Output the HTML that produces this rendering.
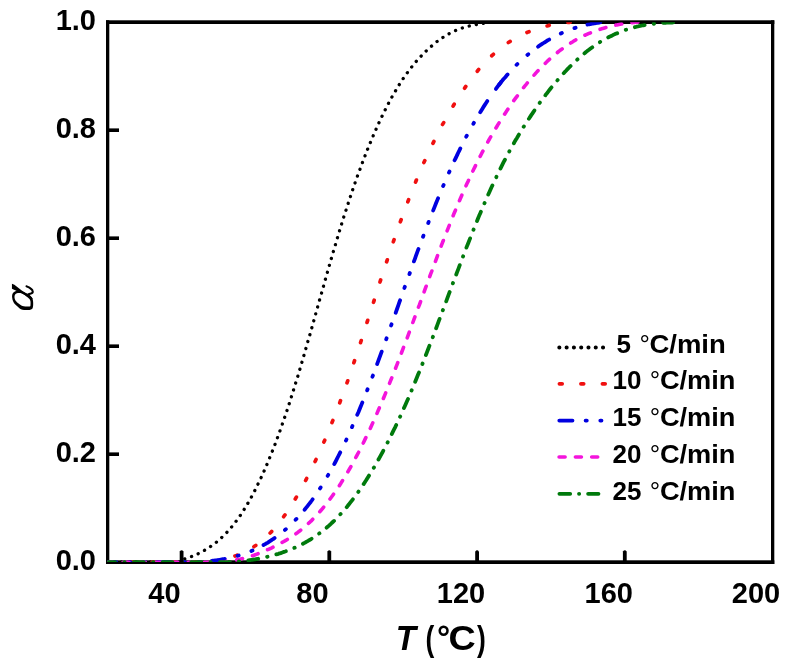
<!DOCTYPE html>
<html><head><meta charset="utf-8"><title>chart</title>
<style>
html,body{margin:0;padding:0;background:#fff;}
body{width:792px;height:668px;overflow:hidden;}
svg{display:block;will-change:transform;}
text{font-family:"Liberation Sans",sans-serif;fill:#000;}
.tk{font-size:29px;font-weight:bold;}
.lg{font-size:26px;font-weight:bold;}
.deg{font-weight:normal;}
.ax{font-size:35px;font-weight:bold;}
</style></head><body>
<svg width="792" height="668" viewBox="0 0 792 668">
<rect x="0" y="0" width="792" height="668" fill="#ffffff"/>
<defs><clipPath id="cp"><rect x="107.2" y="22.2" width="665.4" height="539.9"/></clipPath></defs>
<!-- frame -->
<rect x="106" y="20.3" width="668.3" height="3.7" fill="#000"/>
<rect x="106" y="560.3" width="668.3" height="3.7" fill="#000"/>
<rect x="106" y="20.3" width="3.3" height="543.7" fill="#000"/>
<rect x="771" y="20.3" width="3.3" height="543.7" fill="#000"/>
<g clip-path="url(#cp)">
<path d="M107.7,562.2 L108.8,562.2 L109.9,562.2 L111.0,562.2 L112.1,562.2 L113.2,562.2 L114.4,562.2 L115.5,562.2 L116.6,562.2 L117.7,562.2 L118.8,562.2 L119.9,562.2 L121.0,562.2 L122.1,562.2 L123.2,562.2 L124.3,562.2 L125.4,562.2 L126.6,562.2 L127.7,562.2 L128.8,562.2 L129.9,562.2 L131.0,562.2 L132.1,562.2 L133.2,562.2 L134.3,562.2 L135.4,562.2 L136.5,562.2 L137.6,562.2 L138.8,562.2 L139.9,562.2 L141.0,562.2 L142.1,562.2 L143.2,562.2 L144.3,562.2 L145.4,562.2 L146.5,562.2 L147.6,562.2 L148.7,562.2 L149.8,562.2 L151.0,562.2 L152.1,562.2 L153.2,562.2 L154.3,562.2 L155.4,562.2 L156.5,562.2 L157.6,562.2 L158.7,562.2 L159.8,562.2 L160.9,562.2 L162.0,562.2 L163.2,562.2 L164.3,562.2 L165.4,562.2 L166.5,562.2 L167.6,562.2 L168.7,562.2 L169.8,562.2 L170.9,562.2 L172.0,562.2 L173.1,562.2 L174.2,562.2 L175.4,562.2 L176.5,562.2 L177.6,562.2 L178.7,562.2 L179.8,562.2 L180.9,559.9 L182.0,559.6 L183.1,559.3 L184.2,559.0 L185.3,558.7 L186.4,558.3 L187.6,558.0 L188.7,557.6 L189.8,557.2 L190.9,556.8 L192.0,556.4 L193.1,555.9 L194.2,555.5 L195.3,555.0 L196.4,554.5 L197.5,554.0 L198.6,553.5 L199.8,552.9 L200.9,552.3 L202.0,551.8 L203.1,551.2 L204.2,550.5 L205.3,549.9 L206.4,549.2 L207.5,548.5 L208.6,547.8 L209.7,547.1 L210.8,546.3 L212.0,545.5 L213.1,544.7 L214.2,543.9 L215.3,543.0 L216.4,542.2 L217.5,541.2 L218.6,540.3 L219.7,539.3 L220.8,538.3 L221.9,537.3 L223.0,536.3 L224.2,535.2 L225.3,534.1 L226.4,532.9 L227.5,531.7 L228.6,530.5 L229.7,529.2 L230.8,528.0 L231.9,526.6 L233.0,525.3 L234.1,523.9 L235.2,522.4 L236.4,520.9 L237.5,519.4 L238.6,517.9 L239.7,516.3 L240.8,514.7 L241.9,513.0 L243.0,511.3 L244.1,509.5 L245.2,507.7 L246.3,505.9 L247.4,504.0 L248.6,502.1 L249.7,500.1 L250.8,498.1 L251.9,496.1 L253.0,494.0 L254.1,491.9 L255.2,489.8 L256.3,487.5 L257.4,485.3 L258.5,483.0 L259.6,480.7 L260.8,478.3 L261.9,475.9 L263.0,473.5 L264.1,471.0 L265.2,468.5 L266.3,465.9 L267.4,463.3 L268.5,460.6 L269.6,457.9 L270.7,455.2 L271.8,452.4 L273.0,449.6 L274.1,446.8 L275.2,443.9 L276.3,440.9 L277.4,437.9 L278.5,434.9 L279.6,431.9 L280.7,428.8 L281.8,425.6 L282.9,422.4 L284.0,419.2 L285.2,415.9 L286.3,412.6 L287.4,409.3 L288.5,405.9 L289.6,402.5 L290.7,399.0 L291.8,395.5 L292.9,392.0 L294.0,388.5 L295.1,384.9 L296.2,381.2 L297.4,377.6 L298.5,373.9 L299.6,370.2 L300.7,366.4 L301.8,362.7 L302.9,358.9 L304.0,355.1 L305.1,351.2 L306.2,347.4 L307.3,343.5 L308.4,339.6 L309.6,335.7 L310.7,331.8 L311.8,327.9 L312.9,323.9 L314.0,320.0 L315.1,316.0 L316.2,312.1 L317.3,308.1 L318.4,304.1 L319.5,300.2 L320.6,296.2 L321.8,292.3 L322.9,288.3 L324.0,284.4 L325.1,280.4 L326.2,276.5 L327.3,272.6 L328.4,268.7 L329.5,264.9 L330.6,261.0 L331.7,257.2 L332.8,253.3 L334.0,249.5 L335.1,245.8 L336.2,242.0 L337.3,238.3 L338.4,234.6 L339.5,230.9 L340.6,227.3 L341.7,223.7 L342.8,220.1 L343.9,216.6 L345.0,213.1 L346.2,209.6 L347.3,206.1 L348.4,202.7 L349.5,199.4 L350.6,196.0 L351.7,192.7 L352.8,189.4 L353.9,186.2 L355.0,183.0 L356.1,179.9 L357.2,176.7 L358.4,173.6 L359.5,170.6 L360.6,167.6 L361.7,164.6 L362.8,161.6 L363.9,158.7 L365.0,155.9 L366.1,153.0 L367.2,150.2 L368.3,147.4 L369.4,144.7 L370.6,142.0 L371.7,139.4 L372.8,136.7 L373.9,134.1 L375.0,131.6 L376.1,129.1 L377.2,126.6 L378.3,124.1 L379.4,121.7 L380.5,119.4 L381.6,117.0 L382.8,114.7 L383.9,112.4 L385.0,110.2 L386.1,108.0 L387.2,105.9 L388.3,103.7 L389.4,101.7 L390.5,99.6 L391.6,97.6 L392.7,95.6 L393.8,93.6 L395.0,91.7 L396.1,89.9 L397.2,88.0 L398.3,86.2 L399.4,84.4 L400.5,82.7 L401.6,81.0 L402.7,79.3 L403.8,77.7 L404.9,76.0 L406.0,74.5 L407.2,72.9 L408.3,71.4 L409.4,69.9 L410.5,68.5 L411.6,67.1 L412.7,65.7 L413.8,64.3 L414.9,63.0 L416.0,61.7 L417.1,60.4 L418.2,59.2 L419.4,58.0 L420.5,56.8 L421.6,55.6 L422.7,54.4 L423.8,53.3 L424.9,52.2 L426.0,51.1 L427.1,50.1 L428.2,49.0 L429.3,48.0 L430.4,47.0 L431.6,46.1 L432.7,45.1 L433.8,44.2 L434.9,43.3 L436.0,42.4 L437.1,41.5 L438.2,40.7 L439.3,39.9 L440.4,39.1 L441.5,38.3 L442.6,37.6 L443.8,36.9 L444.9,36.2 L446.0,35.5 L447.1,34.8 L448.2,34.2 L449.3,33.6 L450.4,33.0 L451.5,32.5 L452.6,31.9 L453.7,31.4 L454.8,30.9 L456.0,30.4 L457.1,29.9 L458.2,29.5 L459.3,29.1 L460.4,28.7 L461.5,28.3 L462.6,27.9 L463.7,27.5 L464.8,27.2 L465.9,26.9 L467.0,26.6 L468.2,26.3 L469.3,26.0 L470.4,25.7 L471.5,25.5 L472.6,25.2 L473.7,25.0 L474.8,24.8 L475.9,24.6 L477.0,24.4 L478.1,24.2 L479.2,24.0 L480.4,23.8 L481.5,23.7 L482.6,23.5 L483.7,23.4 L484.8,23.3 L485.9,23.1 L487.0,23.0 L488.1,22.2 L489.2,22.2 L490.3,22.2" fill="none" stroke="#000000" stroke-width="3.3" stroke-dasharray="0.1 7.1" stroke-dashoffset="0.60" stroke-linecap="round" stroke-linejoin="round"/>
<path d="M107.7,562.2 L108.8,562.2 L109.9,562.2 L111.0,562.2 L112.1,562.2 L113.2,562.2 L114.4,562.2 L115.5,562.2 L116.6,562.2 L117.7,562.2 L118.8,562.2 L119.9,562.2 L121.0,562.2 L122.1,562.2 L123.2,562.2 L124.3,562.2 L125.4,562.2 L126.6,562.2 L127.7,562.2 L128.8,562.2 L129.9,562.2 L131.0,562.2 L132.1,562.2 L133.2,562.2 L134.3,562.2 L135.4,562.2 L136.5,562.2 L137.6,562.2 L138.8,562.2 L139.9,562.2 L141.0,562.2 L142.1,562.2 L143.2,562.2 L144.3,562.2 L145.4,562.2 L146.5,562.2 L147.6,562.2 L148.7,562.2 L149.8,562.2 L151.0,562.2 L152.1,562.2 L153.2,562.2 L154.3,562.2 L155.4,562.2 L156.5,562.2 L157.6,562.2 L158.7,562.2 L159.8,562.2 L160.9,562.2 L162.0,562.2 L163.2,562.2 L164.3,562.2 L165.4,562.2 L166.5,562.2 L167.6,562.2 L168.7,562.2 L169.8,562.2 L170.9,562.2 L172.0,562.2 L173.1,562.2 L174.2,562.2 L175.4,562.2 L176.5,562.2 L177.6,562.2 L178.7,562.2 L179.8,562.2 L180.9,562.2 L182.0,562.2 L183.1,562.2 L184.2,562.2 L185.3,562.2 L186.4,562.2 L187.6,562.2 L188.7,562.2 L189.8,562.2 L190.9,562.2 L192.0,562.2 L193.1,562.2 L194.2,562.2 L195.3,562.2 L196.4,562.2 L197.5,562.2 L198.6,562.2 L199.8,562.2 L200.9,562.2 L202.0,562.2 L203.1,562.2 L204.2,562.2 L205.3,562.2 L206.4,562.2 L207.5,562.2 L208.6,562.2 L209.7,562.2 L210.8,562.2 L212.0,562.2 L213.1,562.2 L214.2,562.2 L215.3,562.2 L216.4,562.2 L217.5,562.2 L218.6,562.2 L219.7,562.2 L220.8,559.9 L221.9,559.7 L223.0,559.4 L224.2,559.2 L225.3,558.9 L226.4,558.6 L227.5,558.3 L228.6,558.0 L229.7,557.7 L230.8,557.4 L231.9,557.1 L233.0,556.7 L234.1,556.3 L235.2,555.9 L236.4,555.5 L237.5,555.1 L238.6,554.7 L239.7,554.2 L240.8,553.8 L241.9,553.3 L243.0,552.8 L244.1,552.2 L245.2,551.7 L246.3,551.1 L247.4,550.5 L248.6,549.9 L249.7,549.3 L250.8,548.6 L251.9,548.0 L253.0,547.3 L254.1,546.5 L255.2,545.8 L256.3,545.0 L257.4,544.2 L258.5,543.4 L259.6,542.5 L260.8,541.7 L261.9,540.7 L263.0,539.8 L264.1,538.9 L265.2,537.9 L266.3,536.8 L267.4,535.8 L268.5,534.7 L269.6,533.6 L270.7,532.5 L271.8,531.3 L273.0,530.1 L274.1,528.8 L275.2,527.6 L276.3,526.3 L277.4,524.9 L278.5,523.6 L279.6,522.2 L280.7,520.7 L281.8,519.3 L282.9,517.8 L284.0,516.2 L285.2,514.7 L286.3,513.1 L287.4,511.5 L288.5,509.8 L289.6,508.1 L290.7,506.4 L291.8,504.7 L292.9,502.9 L294.0,501.1 L295.1,499.3 L296.2,497.4 L297.4,495.5 L298.5,493.6 L299.6,491.6 L300.7,489.7 L301.8,487.6 L302.9,485.6 L304.0,483.6 L305.1,481.5 L306.2,479.3 L307.3,477.2 L308.4,475.0 L309.6,472.8 L310.7,470.6 L311.8,468.3 L312.9,466.1 L314.0,463.8 L315.1,461.4 L316.2,459.1 L317.3,456.7 L318.4,454.3 L319.5,451.8 L320.6,449.4 L321.8,446.9 L322.9,444.4 L324.0,441.8 L325.1,439.3 L326.2,436.7 L327.3,434.1 L328.4,431.4 L329.5,428.7 L330.6,426.0 L331.7,423.3 L332.8,420.6 L334.0,417.8 L335.1,415.0 L336.2,412.1 L337.3,409.2 L338.4,406.3 L339.5,403.4 L340.6,400.4 L341.7,397.4 L342.8,394.4 L343.9,391.3 L345.0,388.3 L346.2,385.1 L347.3,382.0 L348.4,378.8 L349.5,375.6 L350.6,372.4 L351.7,369.2 L352.8,365.9 L353.9,362.6 L355.0,359.3 L356.1,356.0 L357.2,352.6 L358.4,349.3 L359.5,345.9 L360.6,342.5 L361.7,339.1 L362.8,335.7 L363.9,332.2 L365.0,328.8 L366.1,325.3 L367.2,321.9 L368.3,318.4 L369.4,315.0 L370.6,311.5 L371.7,308.0 L372.8,304.5 L373.9,301.1 L375.0,297.6 L376.1,294.2 L377.2,290.7 L378.3,287.3 L379.4,283.8 L380.5,280.4 L381.6,277.0 L382.8,273.6 L383.9,270.2 L385.0,266.8 L386.1,263.4 L387.2,260.1 L388.3,256.8 L389.4,253.4 L390.5,250.1 L391.6,246.9 L392.7,243.6 L393.8,240.4 L395.0,237.2 L396.1,234.0 L397.2,230.8 L398.3,227.7 L399.4,224.5 L400.5,221.4 L401.6,218.4 L402.7,215.3 L403.8,212.3 L404.9,209.3 L406.0,206.4 L407.2,203.4 L408.3,200.5 L409.4,197.6 L410.5,194.8 L411.6,192.0 L412.7,189.2 L413.8,186.4 L414.9,183.7 L416.0,181.0 L417.1,178.3 L418.2,175.6 L419.4,173.0 L420.5,170.4 L421.6,167.9 L422.7,165.3 L423.8,162.8 L424.9,160.4 L426.0,157.9 L427.1,155.5 L428.2,153.1 L429.3,150.8 L430.4,148.5 L431.6,146.1 L432.7,143.9 L433.8,141.6 L434.9,139.4 L436.0,137.2 L437.1,135.0 L438.2,132.8 L439.3,130.7 L440.4,128.6 L441.5,126.5 L442.6,124.4 L443.8,122.4 L444.9,120.4 L446.0,118.4 L447.1,116.4 L448.2,114.5 L449.3,112.5 L450.4,110.6 L451.5,108.7 L452.6,106.9 L453.7,105.0 L454.8,103.2 L456.0,101.4 L457.1,99.7 L458.2,97.9 L459.3,96.2 L460.4,94.5 L461.5,92.8 L462.6,91.1 L463.7,89.5 L464.8,87.9 L465.9,86.3 L467.0,84.7 L468.2,83.1 L469.3,81.6 L470.4,80.1 L471.5,78.6 L472.6,77.2 L473.7,75.7 L474.8,74.3 L475.9,72.9 L477.0,71.6 L478.1,70.2 L479.2,68.9 L480.4,67.6 L481.5,66.3 L482.6,65.1 L483.7,63.9 L484.8,62.7 L485.9,61.5 L487.0,60.4 L488.1,59.2 L489.2,58.1 L490.3,57.1 L491.4,56.0 L492.6,55.0 L493.7,54.0 L494.8,53.0 L495.9,52.0 L497.0,51.1 L498.1,50.1 L499.2,49.2 L500.3,48.3 L501.4,47.5 L502.5,46.6 L503.6,45.8 L504.8,45.0 L505.9,44.2 L507.0,43.5 L508.1,42.7 L509.2,42.0 L510.3,41.3 L511.4,40.6 L512.5,39.9 L513.6,39.3 L514.7,38.6 L515.8,38.0 L517.0,37.4 L518.1,36.8 L519.2,36.2 L520.3,35.6 L521.4,35.1 L522.5,34.5 L523.6,34.0 L524.7,33.5 L525.8,33.0 L526.9,32.5 L528.0,32.1 L529.2,31.6 L530.3,31.2 L531.4,30.8 L532.5,30.3 L533.6,29.9 L534.7,29.5 L535.8,29.2 L536.9,28.8 L538.0,28.4 L539.1,28.1 L540.2,27.7 L541.4,27.4 L542.5,27.1 L543.6,26.8 L544.7,26.5 L545.8,26.2 L546.9,26.0 L548.0,25.7 L549.1,25.4 L550.2,25.2 L551.3,25.0 L552.4,24.7 L553.6,24.5 L554.7,24.3 L555.8,24.1 L556.9,23.9 L558.0,23.7 L559.1,23.6 L560.2,23.4 L561.3,23.2 L562.4,23.1 L563.5,23.0 L564.6,22.8 L565.8,22.7 L566.9,22.6 L568.0,22.5 L569.1,22.4 L570.2,22.2 L571.3,22.2 L572.4,22.2" fill="none" stroke="#f01010" stroke-width="3.7" stroke-dasharray="2.2 19.02" stroke-dashoffset="19.28" stroke-linecap="round" stroke-linejoin="round"/>
<path d="M107.7,562.2 L108.8,562.2 L109.9,562.2 L111.0,562.2 L112.1,562.2 L113.2,562.2 L114.4,562.2 L115.5,562.2 L116.6,562.2 L117.7,562.2 L118.8,562.2 L119.9,562.2 L121.0,562.2 L122.1,562.2 L123.2,562.2 L124.3,562.2 L125.4,562.2 L126.6,562.2 L127.7,562.2 L128.8,562.2 L129.9,562.2 L131.0,562.2 L132.1,562.2 L133.2,562.2 L134.3,562.2 L135.4,562.2 L136.5,562.2 L137.6,562.2 L138.8,562.2 L139.9,562.2 L141.0,562.2 L142.1,562.2 L143.2,562.2 L144.3,562.2 L145.4,562.2 L146.5,562.2 L147.6,562.2 L148.7,562.2 L149.8,562.2 L151.0,562.2 L152.1,562.2 L153.2,562.2 L154.3,562.2 L155.4,562.2 L156.5,562.2 L157.6,562.2 L158.7,562.2 L159.8,562.2 L160.9,562.2 L162.0,562.2 L163.2,562.2 L164.3,562.2 L165.4,562.2 L166.5,562.2 L167.6,562.2 L168.7,562.2 L169.8,562.2 L170.9,562.2 L172.0,562.2 L173.1,562.2 L174.2,562.2 L175.4,562.2 L176.5,562.2 L177.6,562.2 L178.7,562.2 L179.8,562.2 L180.9,562.2 L182.0,562.2 L183.1,562.2 L184.2,562.2 L185.3,562.2 L186.4,562.2 L187.6,562.2 L188.7,562.2 L189.8,562.2 L190.9,562.2 L192.0,562.2 L193.1,562.2 L194.2,562.2 L195.3,562.2 L196.4,562.2 L197.5,562.2 L198.6,562.2 L199.8,562.2 L200.9,562.2 L202.0,562.2 L203.1,562.2 L204.2,562.2 L205.3,562.2 L206.4,561.5 L207.5,561.4 L208.6,561.3 L209.7,561.1 L210.8,561.0 L212.0,560.9 L213.1,560.7 L214.2,560.6 L215.3,560.4 L216.4,560.3 L217.5,560.1 L218.6,560.0 L219.7,559.8 L220.8,559.6 L221.9,559.4 L223.0,559.2 L224.2,559.0 L225.3,558.8 L226.4,558.5 L227.5,558.3 L228.6,558.1 L229.7,557.8 L230.8,557.6 L231.9,557.3 L233.0,557.0 L234.1,556.7 L235.2,556.4 L236.4,556.1 L237.5,555.8 L238.6,555.5 L239.7,555.2 L240.8,554.8 L241.9,554.5 L243.0,554.1 L244.1,553.7 L245.2,553.3 L246.3,552.9 L247.4,552.5 L248.6,552.1 L249.7,551.7 L250.8,551.2 L251.9,550.7 L253.0,550.3 L254.1,549.8 L255.2,549.3 L256.3,548.8 L257.4,548.2 L258.5,547.7 L259.6,547.1 L260.8,546.5 L261.9,546.0 L263.0,545.3 L264.1,544.7 L265.2,544.1 L266.3,543.4 L267.4,542.8 L268.5,542.1 L269.6,541.4 L270.7,540.7 L271.8,539.9 L273.0,539.2 L274.1,538.4 L275.2,537.6 L276.3,536.8 L277.4,536.0 L278.5,535.1 L279.6,534.3 L280.7,533.4 L281.8,532.5 L282.9,531.6 L284.0,530.7 L285.2,529.7 L286.3,528.8 L287.4,527.8 L288.5,526.8 L289.6,525.7 L290.7,524.7 L291.8,523.6 L292.9,522.5 L294.0,521.4 L295.1,520.3 L296.2,519.1 L297.4,518.0 L298.5,516.8 L299.6,515.5 L300.7,514.3 L301.8,513.0 L302.9,511.7 L304.0,510.4 L305.1,509.1 L306.2,507.7 L307.3,506.3 L308.4,504.9 L309.6,503.4 L310.7,502.0 L311.8,500.5 L312.9,498.9 L314.0,497.4 L315.1,495.8 L316.2,494.2 L317.3,492.5 L318.4,490.9 L319.5,489.2 L320.6,487.5 L321.8,485.7 L322.9,483.9 L324.0,482.1 L325.1,480.3 L326.2,478.4 L327.3,476.5 L328.4,474.6 L329.5,472.7 L330.6,470.7 L331.7,468.7 L332.8,466.6 L334.0,464.6 L335.1,462.5 L336.2,460.3 L337.3,458.2 L338.4,456.0 L339.5,453.8 L340.6,451.6 L341.7,449.3 L342.8,447.0 L343.9,444.7 L345.0,442.4 L346.2,440.0 L347.3,437.6 L348.4,435.2 L349.5,432.7 L350.6,430.2 L351.7,427.7 L352.8,425.2 L353.9,422.7 L355.0,420.1 L356.1,417.5 L357.2,414.8 L358.4,412.2 L359.5,409.5 L360.6,406.8 L361.7,404.1 L362.8,401.4 L363.9,398.6 L365.0,395.8 L366.1,393.0 L367.2,390.2 L368.3,387.3 L369.4,384.5 L370.6,381.6 L371.7,378.7 L372.8,375.8 L373.9,372.8 L375.0,369.9 L376.1,366.9 L377.2,363.9 L378.3,360.9 L379.4,357.9 L380.5,354.9 L381.6,351.9 L382.8,348.8 L383.9,345.8 L385.0,342.7 L386.1,339.6 L387.2,336.5 L388.3,333.4 L389.4,330.3 L390.5,327.2 L391.6,324.1 L392.7,321.0 L393.8,317.9 L395.0,314.8 L396.1,311.6 L397.2,308.5 L398.3,305.4 L399.4,302.2 L400.5,299.1 L401.6,296.0 L402.7,292.9 L403.8,289.7 L404.9,286.6 L406.0,283.5 L407.2,280.4 L408.3,277.3 L409.4,274.2 L410.5,271.1 L411.6,268.0 L412.7,264.9 L413.8,261.8 L414.9,258.8 L416.0,255.7 L417.1,252.7 L418.2,249.7 L419.4,246.7 L420.5,243.7 L421.6,240.7 L422.7,237.7 L423.8,234.7 L424.9,231.8 L426.0,228.9 L427.1,226.0 L428.2,223.1 L429.3,220.2 L430.4,217.3 L431.6,214.5 L432.7,211.7 L433.8,208.9 L434.9,206.1 L436.0,203.3 L437.1,200.6 L438.2,197.9 L439.3,195.2 L440.4,192.5 L441.5,189.8 L442.6,187.2 L443.8,184.6 L444.9,182.0 L446.0,179.5 L447.1,176.9 L448.2,174.4 L449.3,171.9 L450.4,169.4 L451.5,167.0 L452.6,164.6 L453.7,162.2 L454.8,159.8 L456.0,157.5 L457.1,155.1 L458.2,152.8 L459.3,150.6 L460.4,148.3 L461.5,146.1 L462.6,143.9 L463.7,141.7 L464.8,139.6 L465.9,137.4 L467.0,135.3 L468.2,133.3 L469.3,131.2 L470.4,129.2 L471.5,127.2 L472.6,125.2 L473.7,123.2 L474.8,121.3 L475.9,119.4 L477.0,117.5 L478.1,115.6 L479.2,113.8 L480.4,112.0 L481.5,110.2 L482.6,108.4 L483.7,106.6 L484.8,104.9 L485.9,103.2 L487.0,101.5 L488.1,99.9 L489.2,98.2 L490.3,96.6 L491.4,95.0 L492.6,93.5 L493.7,91.9 L494.8,90.4" fill="none" stroke="#0000e0" stroke-width="3.8" stroke-dasharray="13.2 13.1 1.2 13.5 1.2 12.3" stroke-dashoffset="4.69" stroke-linecap="round" stroke-linejoin="round"/>
<path d="M494.8,90.4 L495.9,88.9 L497.0,87.4 L498.1,85.9 L499.2,84.5 L500.3,83.1 L501.4,81.7 L502.5,80.3 L503.6,79.0 L504.8,77.7 L505.9,76.4 L507.0,75.1 L508.1,73.8 L509.2,72.6 L510.3,71.3 L511.4,70.1 L512.5,69.0 L513.6,67.8 L514.7,66.6 L515.8,65.5 L517.0,64.4 L518.1,63.3 L519.2,62.3 L520.3,61.2 L521.4,60.2 L522.5,59.2 L523.6,58.2 L524.7,57.2 L525.8,56.2 L526.9,55.3 L528.0,54.4 L529.2,53.5 L530.3,52.6 L531.4,51.7 L532.5,50.8 L533.6,50.0 L534.7,49.1 L535.8,48.3 L536.9,47.5 L538.0,46.7 L539.1,45.9 L540.2,45.2 L541.4,44.4 L542.5,43.7 L543.6,43.0 L544.7,42.3 L545.8,41.6 L546.9,40.9 L548.0,40.2 L549.1,39.6 L550.2,38.9 L551.3,38.3 L552.4,37.7 L553.6,37.1 L554.7,36.5 L555.8,35.9 L556.9,35.4 L558.0,34.8 L559.1,34.3 L560.2,33.8 L561.3,33.3 L562.4,32.8 L563.5,32.3 L564.6,31.8 L565.8,31.3 L566.9,30.9 L568.0,30.5 L569.1,30.0 L570.2,29.6 L571.3,29.2 L572.4,28.8 L573.5,28.4 L574.6,28.1 L575.7,27.7 L576.8,27.4 L578.0,27.0 L579.1,26.7 L580.2,26.4 L581.3,26.1 L582.4,25.8 L583.5,25.5 L584.6,25.2 L585.7,25.0 L586.8,24.7 L587.9,24.5 L589.0,24.3 L590.2,24.1 L591.3,23.8 L592.4,23.6 L593.5,23.5 L594.6,23.3 L595.7,23.1 L596.8,22.9 L597.9,22.8 L599.0,22.7 L600.1,22.2 L601.2,22.2 L602.4,22.2" fill="none" stroke="#0000e0" stroke-width="3.8" stroke-dasharray="13.2 13.1 1.2 13.5 1.2 12.3" stroke-dashoffset="47.21" stroke-linecap="round" stroke-linejoin="round"/>
<path d="M107.7,562.2 L108.8,562.2 L109.9,562.2 L111.0,562.2 L112.1,562.2 L113.2,562.2 L114.4,562.2 L115.5,562.2 L116.6,562.2 L117.7,562.2 L118.8,562.2 L119.9,562.2 L121.0,562.2 L122.1,562.2 L123.2,562.2 L124.3,562.2 L125.4,562.2 L126.6,562.2 L127.7,562.2 L128.8,562.2 L129.9,562.2 L131.0,562.2 L132.1,562.2 L133.2,562.2 L134.3,562.2 L135.4,562.2 L136.5,562.2 L137.6,562.2 L138.8,562.2 L139.9,562.2 L141.0,562.2 L142.1,562.2 L143.2,562.2 L144.3,562.2 L145.4,562.2 L146.5,562.2 L147.6,562.2 L148.7,562.2 L149.8,562.2 L151.0,562.2 L152.1,562.2 L153.2,562.2 L154.3,562.2 L155.4,562.2 L156.5,562.2 L157.6,562.2 L158.7,562.2 L159.8,562.2 L160.9,562.2 L162.0,562.2 L163.2,562.2 L164.3,562.2 L165.4,562.2 L166.5,562.2 L167.6,562.2 L168.7,562.2 L169.8,562.2 L170.9,562.2 L172.0,562.2 L173.1,562.2 L174.2,562.2 L175.4,562.2 L176.5,562.2 L177.6,562.2 L178.7,562.2 L179.8,562.2 L180.9,562.2 L182.0,562.2 L183.1,562.2 L184.2,562.2 L185.3,562.2 L186.4,562.2 L187.6,562.2 L188.7,562.2 L189.8,562.2 L190.9,562.2 L192.0,562.2 L193.1,562.2 L194.2,562.2 L195.3,562.2 L196.4,562.2 L197.5,562.2 L198.6,562.2 L199.8,562.2 L200.9,562.2 L202.0,562.2 L203.1,562.2 L204.2,562.2 L205.3,562.2 L206.4,562.2 L207.5,562.2 L208.6,562.2 L209.7,562.2 L210.8,562.2 L212.0,562.2 L213.1,562.2 L214.2,562.2 L215.3,562.2 L216.4,562.2 L217.5,562.2 L218.6,562.2 L219.7,562.2 L220.8,562.2 L221.9,562.2 L223.0,562.2 L224.2,562.2 L225.3,562.2 L226.4,561.3 L227.5,561.2 L228.6,561.0 L229.7,560.9 L230.8,560.8 L231.9,560.6 L233.0,560.4 L234.1,560.3 L235.2,560.1 L236.4,559.9 L237.5,559.7 L238.6,559.5 L239.7,559.2 L240.8,559.0 L241.9,558.7 L243.0,558.5 L244.1,558.2 L245.2,557.9 L246.3,557.6 L247.4,557.3 L248.6,557.0 L249.7,556.6 L250.8,556.3 L251.9,555.9 L253.0,555.6 L254.1,555.2 L255.2,554.8 L256.3,554.4 L257.4,554.0 L258.5,553.5 L259.6,553.1 L260.8,552.7 L261.9,552.2 L263.0,551.8 L264.1,551.3 L265.2,550.8 L266.3,550.3 L267.4,549.8 L268.5,549.3 L269.6,548.8 L270.7,548.3 L271.8,547.8 L273.0,547.2 L274.1,546.7 L275.2,546.1 L276.3,545.6 L277.4,545.0 L278.5,544.4 L279.6,543.8 L280.7,543.2 L281.8,542.6 L282.9,542.0 L284.0,541.4 L285.2,540.7 L286.3,540.1 L287.4,539.4 L288.5,538.7 L289.6,538.0 L290.7,537.3 L291.8,536.6 L292.9,535.8 L294.0,535.1 L295.1,534.3 L296.2,533.5 L297.4,532.7 L298.5,531.8 L299.6,531.0 L300.7,530.1 L301.8,529.2 L302.9,528.3 L304.0,527.4 L305.1,526.4 L306.2,525.5 L307.3,524.5 L308.4,523.4 L309.6,522.4 L310.7,521.3 L311.8,520.3 L312.9,519.1 L314.0,518.0 L315.1,516.9 L316.2,515.7 L317.3,514.5 L318.4,513.3 L319.5,512.0 L320.6,510.8 L321.8,509.5 L322.9,508.1 L324.0,506.8 L325.1,505.4 L326.2,504.0 L327.3,502.6 L328.4,501.2 L329.5,499.7 L330.6,498.2 L331.7,496.7 L332.8,495.2 L334.0,493.6 L335.1,492.0 L336.2,490.4 L337.3,488.8 L338.4,487.1 L339.5,485.4 L340.6,483.7 L341.7,481.9 L342.8,480.2 L343.9,478.4 L345.0,476.6 L346.2,474.7 L347.3,472.8 L348.4,470.9 L349.5,469.0 L350.6,467.1 L351.7,465.1 L352.8,463.1 L353.9,461.1 L355.0,459.0 L356.1,456.9 L357.2,454.8 L358.4,452.7 L359.5,450.6 L360.6,448.4 L361.7,446.2 L362.8,444.0 L363.9,441.7 L365.0,439.4 L366.1,437.1 L367.2,434.8 L368.3,432.5 L369.4,430.1 L370.6,427.7 L371.7,425.3 L372.8,422.8 L373.9,420.4 L375.0,417.9 L376.1,415.4 L377.2,412.9 L378.3,410.3 L379.4,407.7 L380.5,405.1 L381.6,402.5 L382.8,399.9 L383.9,397.2 L385.0,394.6 L386.1,391.9 L387.2,389.2 L388.3,386.5 L389.4,383.7 L390.5,380.9 L391.6,378.2 L392.7,375.4 L393.8,372.6 L395.0,369.7 L396.1,366.9 L397.2,364.1 L398.3,361.2 L399.4,358.3 L400.5,355.4 L401.6,352.5 L402.7,349.6 L403.8,346.7 L404.9,343.7 L406.0,340.8 L407.2,337.8 L408.3,334.9 L409.4,331.9 L410.5,328.9 L411.6,325.9 L412.7,322.9 L413.8,319.9 L414.9,316.9 L416.0,313.9 L417.1,310.9 L418.2,307.9 L419.4,304.9 L420.5,301.8 L421.6,298.8 L422.7,295.8 L423.8,292.8 L424.9,289.7 L426.0,286.7 L427.1,283.7 L428.2,280.7 L429.3,277.7 L430.4,274.7 L431.6,271.7 L432.7,268.7 L433.8,265.7 L434.9,262.8 L436.0,259.8 L437.1,256.8 L438.2,253.9 L439.3,251.0 L440.4,248.1 L441.5,245.2 L442.6,242.3 L443.8,239.4 L444.9,236.6 L446.0,233.7 L447.1,230.9 L448.2,228.1 L449.3,225.3 L450.4,222.5 L451.5,219.8 L452.6,217.1 L453.7,214.3 L454.8,211.7 L456.0,209.0 L457.1,206.3 L458.2,203.7 L459.3,201.1 L460.4,198.5 L461.5,196.0 L462.6,193.4 L463.7,190.9 L464.8,188.4 L465.9,186.0 L467.0,183.5 L468.2,181.1 L469.3,178.7 L470.4,176.3 L471.5,174.0 L472.6,171.6 L473.7,169.3 L474.8,167.1 L475.9,164.8 L477.0,162.6 L478.1,160.3 L479.2,158.1 L480.4,156.0 L481.5,153.8 L482.6,151.7 L483.7,149.6 L484.8,147.5 L485.9,145.5 L487.0,143.4 L488.1,141.4 L489.2,139.5 L490.3,137.5 L491.4,135.6 L492.6,133.6 L493.7,131.7 L494.8,129.9 L495.9,128.0 L497.0,126.2 L498.1,124.4 L499.2,122.6 L500.3,120.8 L501.4,119.0 L502.5,117.3 L503.6,115.6 L504.8,113.9 L505.9,112.2 L507.0,110.5 L508.1,108.9 L509.2,107.3 L510.3,105.7 L511.4,104.1 L512.5,102.5 L513.6,100.9 L514.7,99.4 L515.8,97.9 L517.0,96.3 L518.1,94.9 L519.2,93.4 L520.3,91.9 L521.4,90.5 L522.5,89.0 L523.6,87.6 L524.7,86.2 L525.8,84.9 L526.9,83.5 L528.0,82.1 L529.2,80.8 L530.3,79.5 L531.4,78.2 L532.5,76.9 L533.6,75.6 L534.7,74.4 L535.8,73.1 L536.9,71.9 L538.0,70.7 L539.1,69.5 L540.2,68.4 L541.4,67.2 L542.5,66.1 L543.6,64.9 L544.7,63.8 L545.8,62.8 L546.9,61.7 L548.0,60.6 L549.1,59.6 L550.2,58.6 L551.3,57.6 L552.4,56.6 L553.6,55.7 L554.7,54.7 L555.8,53.8 L556.9,52.9 L558.0,52.0 L559.1,51.1 L560.2,50.3 L561.3,49.5 L562.4,48.6 L563.5,47.8 L564.6,47.0 L565.8,46.3 L566.9,45.5 L568.0,44.8 L569.1,44.0 L570.2,43.3 L571.3,42.6 L572.4,42.0 L573.5,41.3 L574.6,40.6 L575.7,40.0 L576.8,39.4 L578.0,38.8 L579.1,38.2 L580.2,37.6 L581.3,37.0 L582.4,36.5 L583.5,35.9 L584.6,35.4 L585.7,34.9 L586.8,34.4 L587.9,33.9 L589.0,33.4 L590.2,33.0 L591.3,32.5 L592.4,32.1 L593.5,31.6 L594.6,31.2 L595.7,30.8 L596.8,30.4 L597.9,30.0 L599.0,29.6 L600.1,29.3 L601.2,28.9 L602.4,28.6 L603.5,28.2 L604.6,27.9 L605.7,27.6 L606.8,27.3 L607.9,27.0 L609.0,26.7 L610.1,26.4 L611.2,26.1 L612.3,25.9 L613.4,25.6 L614.6,25.4 L615.7,25.1 L616.8,24.9 L617.9,24.7 L619.0,24.5 L620.1,24.3 L621.2,24.1 L622.3,23.9 L623.4,23.7 L624.5,23.6 L625.6,23.4 L626.8,23.3 L627.9,23.1 L629.0,23.0 L630.1,22.9 L631.2,22.7 L632.3,22.6 L633.4,22.5 L634.5,22.4 L635.6,22.3 L636.7,22.2 L637.8,22.2 L639.0,22.2" fill="none" stroke="#f414dc" stroke-width="3.6" stroke-dasharray="6.0 10.3" stroke-dashoffset="0.99" stroke-linecap="round" stroke-linejoin="round"/>
<path d="M107.7,562.2 L108.8,562.2 L109.9,562.2 L111.0,562.2 L112.1,562.2 L113.2,562.2 L114.4,562.2 L115.5,562.2 L116.6,562.2 L117.7,562.2 L118.8,562.2 L119.9,562.2 L121.0,562.2 L122.1,562.2 L123.2,562.2 L124.3,562.2 L125.4,562.2 L126.6,562.2 L127.7,562.2 L128.8,562.2 L129.9,562.2 L131.0,562.2 L132.1,562.2 L133.2,562.2 L134.3,562.2 L135.4,562.2 L136.5,562.2 L137.6,562.2 L138.8,562.2 L139.9,562.2 L141.0,562.2 L142.1,562.2 L143.2,562.2 L144.3,562.2 L145.4,562.2 L146.5,562.2 L147.6,562.2 L148.7,562.2 L149.8,562.2 L151.0,562.2 L152.1,562.2 L153.2,562.2 L154.3,562.2 L155.4,562.2 L156.5,562.2 L157.6,562.2 L158.7,562.2 L159.8,562.2 L160.9,562.2 L162.0,562.2 L163.2,562.2 L164.3,562.2 L165.4,562.2 L166.5,562.2 L167.6,562.2 L168.7,562.2 L169.8,562.2 L170.9,562.2 L172.0,562.2 L173.1,562.2 L174.2,562.2 L175.4,562.2 L176.5,562.2 L177.6,562.2 L178.7,562.2 L179.8,562.2 L180.9,562.2 L182.0,562.2 L183.1,562.2 L184.2,562.2 L185.3,562.2 L186.4,562.2 L187.6,562.2 L188.7,562.2 L189.8,562.2 L190.9,562.2 L192.0,562.2 L193.1,562.2 L194.2,562.2 L195.3,562.2 L196.4,562.2 L197.5,562.2 L198.6,562.2 L199.8,562.2 L200.9,562.2 L202.0,562.2 L203.1,562.2 L204.2,562.2 L205.3,562.2 L206.4,562.2 L207.5,562.2 L208.6,562.2 L209.7,562.2 L210.8,562.2 L212.0,562.2 L213.1,562.2 L214.2,562.2 L215.3,562.2 L216.4,562.2 L217.5,562.2 L218.6,562.2 L219.7,562.2 L220.8,562.2 L221.9,562.2 L223.0,562.2 L224.2,562.2 L225.3,562.2 L226.4,562.2 L227.5,562.2 L228.6,562.2 L229.7,562.2 L230.8,562.2 L231.9,562.2 L233.0,562.2 L234.1,562.2 L235.2,562.2 L236.4,562.2 L237.5,562.2 L238.6,561.4 L239.7,561.3 L240.8,561.2 L241.9,561.1 L243.0,560.9 L244.1,560.8 L245.2,560.7 L246.3,560.6 L247.4,560.4 L248.6,560.3 L249.7,560.1 L250.8,560.0 L251.9,559.8 L253.0,559.6 L254.1,559.5 L255.2,559.3 L256.3,559.1 L257.4,558.9 L258.5,558.7 L259.6,558.5 L260.8,558.3 L261.9,558.0 L263.0,557.8 L264.1,557.6 L265.2,557.3 L266.3,557.1 L267.4,556.8 L268.5,556.5 L269.6,556.3 L270.7,556.0 L271.8,555.7 L273.0,555.4 L274.1,555.1 L275.2,554.8 L276.3,554.4 L277.4,554.1 L278.5,553.8 L279.6,553.4 L280.7,553.1 L281.8,552.7 L282.9,552.3 L284.0,551.9 L285.2,551.5 L286.3,551.1 L287.4,550.7 L288.5,550.3 L289.6,549.9 L290.7,549.4 L291.8,549.0 L292.9,548.5 L294.0,548.0 L295.1,547.5 L296.2,547.0 L297.4,546.5 L298.5,546.0 L299.6,545.5 L300.7,544.9 L301.8,544.3 L302.9,543.8 L304.0,543.2 L305.1,542.6 L306.2,541.9 L307.3,541.3 L308.4,540.7 L309.6,540.0 L310.7,539.3 L311.8,538.6 L312.9,537.9 L314.0,537.2 L315.1,536.4 L316.2,535.7 L317.3,534.9 L318.4,534.1 L319.5,533.3 L320.6,532.4 L321.8,531.6 L322.9,530.7 L324.0,529.8 L325.1,528.9 L326.2,528.0 L327.3,527.0 L328.4,526.1 L329.5,525.1 L330.6,524.1 L331.7,523.0 L332.8,522.0 L334.0,520.9 L335.1,519.8 L336.2,518.7 L337.3,517.6 L338.4,516.4 L339.5,515.2 L340.6,514.0 L341.7,512.8 L342.8,511.6 L343.9,510.3 L345.0,509.0 L346.2,507.7 L347.3,506.4 L348.4,505.0 L349.5,503.6 L350.6,502.2 L351.7,500.8 L352.8,499.4 L353.9,497.9 L355.0,496.4 L356.1,494.9 L357.2,493.4 L358.4,491.8 L359.5,490.2 L360.6,488.6 L361.7,487.0 L362.8,485.3 L363.9,483.7 L365.0,482.0 L366.1,480.3 L367.2,478.5 L368.3,476.7 L369.4,475.0 L370.6,473.1 L371.7,471.3 L372.8,469.5 L373.9,467.6 L375.0,465.7 L376.1,463.7 L377.2,461.8 L378.3,459.8 L379.4,457.8 L380.5,455.8 L381.6,453.8 L382.8,451.7 L383.9,449.6 L385.0,447.5 L386.1,445.4 L387.2,443.3 L388.3,441.1 L389.4,438.9 L390.5,436.7 L391.6,434.4 L392.7,432.2 L393.8,429.9 L395.0,427.6 L396.1,425.3 L397.2,422.9 L398.3,420.6 L399.4,418.2 L400.5,415.8 L401.6,413.3 L402.7,410.9 L403.8,408.4 L404.9,405.9 L406.0,403.4 L407.2,400.8 L408.3,398.3 L409.4,395.7 L410.5,393.1 L411.6,390.4 L412.7,387.8 L413.8,385.1 L414.9,382.4 L416.0,379.7 L417.1,377.0 L418.2,374.3 L419.4,371.5 L420.5,368.8 L421.6,366.0 L422.7,363.2 L423.8,360.4 L424.9,357.5 L426.0,354.7 L427.1,351.8 L428.2,349.0 L429.3,346.1 L430.4,343.2 L431.6,340.3 L432.7,337.4 L433.8,334.4 L434.9,331.5 L436.0,328.6 L437.1,325.6 L438.2,322.7 L439.3,319.7 L440.4,316.7 L441.5,313.8 L442.6,310.8 L443.8,307.8 L444.9,304.9 L446.0,301.9 L447.1,298.9 L448.2,295.9 L449.3,292.9 L450.4,290.0 L451.5,287.0 L452.6,284.0 L453.7,281.1 L454.8,278.1 L456.0,275.1 L457.1,272.2 L458.2,269.3 L459.3,266.3 L460.4,263.4 L461.5,260.5 L462.6,257.6 L463.7,254.7 L464.8,251.8 L465.9,248.9 L467.0,246.1 L468.2,243.2 L469.3,240.4 L470.4,237.6 L471.5,234.7 L472.6,232.0 L473.7,229.2 L474.8,226.4 L475.9,223.7 L477.0,221.0 L478.1,218.3 L479.2,215.6 L480.4,212.9 L481.5,210.3 L482.6,207.7 L483.7,205.1 L484.8,202.5 L485.9,199.9 L487.0,197.4 L488.1,194.9 L489.2,192.4 L490.3,189.9 L491.4,187.5 L492.6,185.1 L493.7,182.7 L494.8,180.3 L495.9,178.0 L497.0,175.6 L498.1,173.3 L499.2,171.1 L500.3,168.8 L501.4,166.6 L502.5,164.4 L503.6,162.2 L504.8,160.0 L505.9,157.9 L507.0,155.8 L508.1,153.7 L509.2,151.7 L510.3,149.6 L511.4,147.6 L512.5,145.6 L513.6,143.7 L514.7,141.7 L515.8,139.8 L517.0,137.9 L518.1,136.0 L519.2,134.2 L520.3,132.3 L521.4,130.5 L522.5,128.7 L523.6,126.9 L524.7,125.2 L525.8,123.4 L526.9,121.7 L528.0,120.0 L529.2,118.3 L530.3,116.6 L531.4,114.9 L532.5,113.3 L533.6,111.7 L534.7,110.0 L535.8,108.4 L536.9,106.9 L538.0,105.3 L539.1,103.7 L540.2,102.2 L541.4,100.7 L542.5,99.2 L543.6,97.7 L544.7,96.2 L545.8,94.7 L546.9,93.3 L548.0,91.9 L549.1,90.4 L550.2,89.0 L551.3,87.6 L552.4,86.3 L553.6,84.9 L554.7,83.6 L555.8,82.2 L556.9,80.9 L558.0,79.6 L559.1,78.3 L560.2,77.1 L561.3,75.8 L562.4,74.6 L563.5,73.4 L564.6,72.2 L565.8,71.0 L566.9,69.8 L568.0,68.6 L569.1,67.5 L570.2,66.4 L571.3,65.3 L572.4,64.2 L573.5,63.1 L574.6,62.0 L575.7,61.0 L576.8,60.0 L578.0,58.9 L579.1,57.9 L580.2,57.0 L581.3,56.0 L582.4,55.0 L583.5,54.1 L584.6,53.2 L585.7,52.3 L586.8,51.4 L587.9,50.5 L589.0,49.7 L590.2,48.8 L591.3,48.0 L592.4,47.2 L593.5,46.4 L594.6,45.7 L595.7,44.9 L596.8,44.2 L597.9,43.4 L599.0,42.7 L600.1,42.0 L601.2,41.4 L602.4,40.7 L603.5,40.0 L604.6,39.4 L605.7,38.8 L606.8,38.2 L607.9,37.6 L609.0,37.0 L610.1,36.4 L611.2,35.9 L612.3,35.4 L613.4,34.8 L614.6,34.3 L615.7,33.8 L616.8,33.4 L617.9,32.9 L619.0,32.4 L620.1,32.0 L621.2,31.5 L622.3,31.1 L623.4,30.7 L624.5,30.3 L625.6,29.9 L626.8,29.6 L627.9,29.2 L629.0,28.9 L630.1,28.5 L631.2,28.2 L632.3,27.9 L633.4,27.6 L634.5,27.3 L635.6,27.0 L636.7,26.7 L637.8,26.5 L639.0,26.2 L640.1,26.0 L641.2,25.7 L642.3,25.5 L643.4,25.3 L644.5,25.1 L645.6,24.9 L646.7,24.7 L647.8,24.6 L648.9,24.4 L650.0,24.2 L651.2,24.1 L652.3,23.9 L653.4,23.8 L654.5,23.7 L655.6,23.6 L656.7,23.5 L657.8,23.3 L658.9,23.2 L660.0,23.2 L661.1,23.1 L662.2,23.0 L663.4,22.9 L664.5,22.8 L665.6,22.8 L666.7,22.7 L667.8,22.6 L668.9,22.6 L670.0,22.5 L671.1,22.5 L672.2,22.5 L673.3,22.4 L674.4,22.4 L675.6,22.4 L676.7,22.3 L677.8,22.3 L678.9,22.3 L680.0,22.3 L681.1,22.2 L682.2,22.2" fill="none" stroke="#007a0c" stroke-width="3.8" stroke-dasharray="10.0 9.15 0.4 9.15" stroke-dashoffset="2.55" stroke-linecap="round" stroke-linejoin="round"/>
<path d="M495.9,88.9 L497.0,87.4 L498.1,85.9 L499.2,84.5 L500.3,83.1 L501.4,81.7" fill="none" stroke="#0000e0" stroke-width="3.8" stroke-linecap="round"/>
</g>
<rect x="108" y="452.4" width="11" height="3.6" fill="#000"/>
<rect x="108" y="344.4" width="11" height="3.6" fill="#000"/>
<rect x="108" y="236.4" width="11" height="3.6" fill="#000"/>
<rect x="108" y="128.4" width="11" height="3.6" fill="#000"/>
<path d="M179.7,562 V551.5 Q181.6,549 183.5,551.5 V562 Z" fill="#000"/>
<path d="M327.4,562 V551.5 Q329.3,549 331.2,551.5 V562 Z" fill="#000"/>
<path d="M475.2,562 V551.5 Q477.1,549 479.0,551.5 V562 Z" fill="#000"/>
<path d="M622.9,562 V551.5 Q624.8,549 626.7,551.5 V562 Z" fill="#000"/>

<text x="96" y="30.2" text-anchor="end" class="tk">1.0</text>
<text x="96" y="138.2" text-anchor="end" class="tk">0.8</text>
<text x="96" y="246.2" text-anchor="end" class="tk">0.6</text>
<text x="96" y="354.2" text-anchor="end" class="tk">0.4</text>
<text x="96" y="462.2" text-anchor="end" class="tk">0.2</text>
<text x="96" y="570.2" text-anchor="end" class="tk">0.0</text>

<text x="164.5" y="603.3" text-anchor="middle" class="tk">40</text>
<text x="312.5" y="603.3" text-anchor="middle" class="tk">80</text>
<text x="461" y="603.3" text-anchor="middle" class="tk">120</text>
<text x="608.8" y="603.3" text-anchor="middle" class="tk">160</text>
<text x="756" y="603.3" text-anchor="middle" class="tk">200</text>

<text x="395.8" y="650.4" class="ax" font-style="italic" textLength="20.2" lengthAdjust="spacingAndGlyphs">T</text>
<text x="425.4" y="650.8" class="ax" textLength="8.8" lengthAdjust="spacingAndGlyphs">(</text>
<text x="436.9" y="649.4" class="ax deg" style="font-size:33px">°</text>
<text x="448.4" y="650.4" class="ax" textLength="27.2" lengthAdjust="spacingAndGlyphs">C</text>
<text x="477.0" y="650.8" class="ax" textLength="8.8" lengthAdjust="spacingAndGlyphs">)</text>
<g fill="#000"><path d="M11.94,283.69 L11.94,288.70 L22.07,293.48 L30.04,297.81 L31.64,299.51 L32.66,298.60 L30.04,295.53 L22.07,290.64 L14.39,284.72Z"/><path fill-rule="evenodd" d="M22.07,291.38 C20.32,290.78 18.75,290.38 17.24,290.64 C15.72,290.89 13.82,291.79 12.97,292.91 C12.11,294.03 12.02,295.80 12.11,297.35 C12.21,298.90 12.64,300.67 13.54,302.19 C14.44,303.71 16.05,305.20 17.52,306.46 C18.99,307.72 20.22,309.21 22.36,309.76 C24.49,310.31 28.57,310.17 30.33,309.76 C32.08,309.35 32.44,308.81 32.89,307.31 C33.33,305.81 33.24,302.47 33.00,300.77 C32.77,299.06 32.34,298.16 31.47,297.07 C30.59,295.98 29.33,295.17 27.77,294.22 C26.20,293.27 23.83,291.97 22.07,291.38Z M21.51,293.37 C20.13,292.84 18.87,292.82 17.81,293.03 C16.74,293.23 15.68,293.90 15.13,294.62 C14.58,295.34 14.42,296.33 14.50,297.35 C14.59,298.38 14.86,299.68 15.64,300.77 C16.43,301.86 17.87,302.98 19.23,303.90 C20.59,304.82 22.05,305.87 23.78,306.29 C25.52,306.70 28.53,306.56 29.64,306.40 C30.75,306.24 30.31,306.16 30.44,305.32 C30.57,304.48 30.65,302.43 30.44,301.34 C30.23,300.24 29.92,299.63 29.19,298.77 C28.46,297.92 27.34,297.11 26.06,296.21 C24.78,295.31 22.88,293.90 21.51,293.37Z"/><path d="M26.51,286.31 C27.10,286.59 29.09,287.39 30.04,288.02 C30.99,288.64 31.81,289.29 32.21,290.07 C32.60,290.84 33.08,291.98 32.43,292.68 C31.79,293.39 29.02,294.01 28.34,294.28" fill="none" stroke="#000" stroke-width="2.1" stroke-linecap="round"/></g>
<line x1="559.3" y1="347.4" x2="603.4" y2="347.4" stroke="#000000" stroke-width="4.0" stroke-dasharray="0.1 7.18" stroke-linecap="round"/>
<text x="616.5" y="353.2" class="lg">5</text><text x="639.6" y="353.2" class="lg deg">°</text><text x="649.4" y="353.2" class="lg" textLength="76.4" lengthAdjust="spacingAndGlyphs">C/min</text>
<line x1="559.45" y1="383.8" x2="606" y2="383.8" stroke="#f01010" stroke-width="3.8" stroke-dasharray="2.7 18.8" stroke-linecap="round"/>
<text x="612.6" y="389" class="lg">10</text><text x="649.7" y="389" class="lg deg">°</text><text x="659.9" y="389" class="lg" textLength="75.6" lengthAdjust="spacingAndGlyphs">C/min</text>
<line x1="559.3" y1="420.6" x2="603" y2="420.6" stroke="#0000e0" stroke-width="3.8" stroke-dasharray="13.2 13.1 1.2 13.5 1.2 12.3" stroke-linecap="round"/>
<text x="612.6" y="426.3" class="lg">15</text><text x="649.7" y="426.3" class="lg deg">°</text><text x="659.9" y="426.3" class="lg" textLength="75.6" lengthAdjust="spacingAndGlyphs">C/min</text>
<line x1="559.1" y1="457.0" x2="600" y2="457.0" stroke="#f414dc" stroke-width="3.6" stroke-dasharray="6.0 10.3" stroke-linecap="round"/>
<text x="612.6" y="463.4" class="lg">20</text><text x="649.7" y="463.4" class="lg deg">°</text><text x="659.9" y="463.4" class="lg" textLength="75.6" lengthAdjust="spacingAndGlyphs">C/min</text>
<line x1="559.4" y1="493.8" x2="598.5" y2="493.8" stroke="#007a0c" stroke-width="3.8" stroke-dasharray="10.8 8.8 0.2 8.9" stroke-linecap="round"/>
<text x="612.6" y="499.6" class="lg">25</text><text x="649.7" y="499.6" class="lg deg">°</text><text x="659.9" y="499.6" class="lg" textLength="75.6" lengthAdjust="spacingAndGlyphs">C/min</text>

</svg>
</body></html>
